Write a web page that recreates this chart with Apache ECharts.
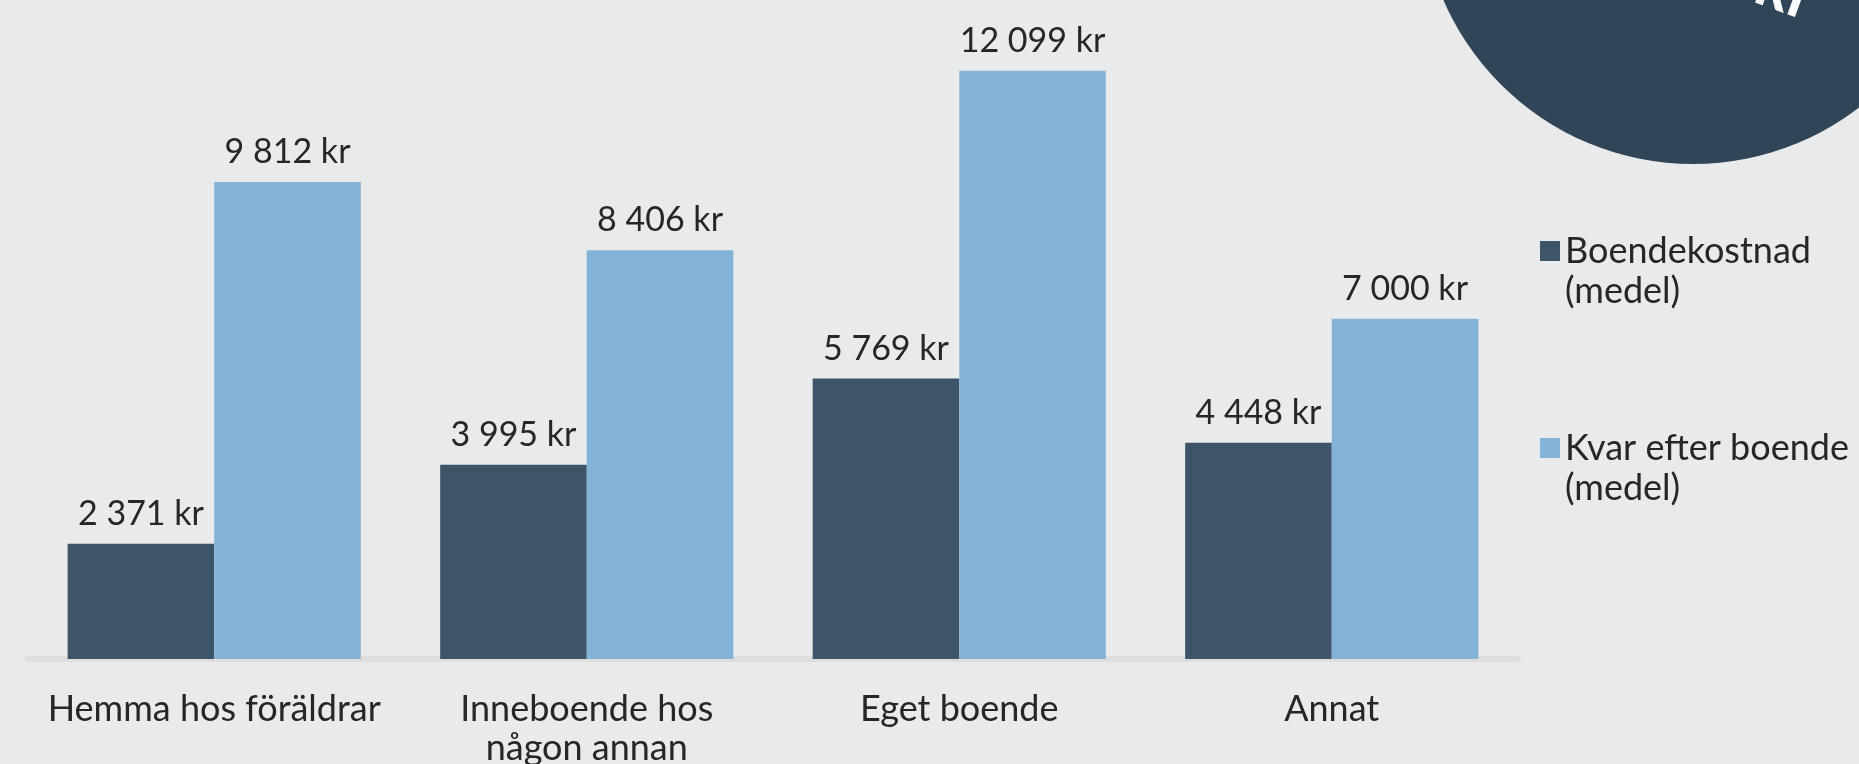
<!DOCTYPE html>
<html>
<head>
<meta charset="utf-8">
<script src="https://cdn.jsdelivr.net/npm/echarts@6/dist/echarts.min.js"></script>
<style>
  html, body { margin: 0; padding: 0; background: #e9eaec; }
  #chart { width: 1859px; height: 764px; }
</style>
</head>
<body>
<div id="chart"></div>
<script>
// Boendeform
const categories = ['Hemma hos föräldrar', 'Inneboende hos\nnågon annan', 'Eget boende', 'Annat'];
// Genomsnittlig boendekostnad per månad (kr)
const boendekostnad = [2371, 3995, 5769, 4448];
// Kvar att leva på efter boendekostnad (kr)
const kvarEfterBoende = [9812, 8406, 12099, 7000];
const seriesNames = ['Boendekostnad\n(medel)', 'Kvar efter boende\n(medel)'];

const FONT = 'Lato, "Open Sans", sans-serif';
const TEXT = '#262626';

const fmtKr = v => String(v).replace(/\B(?=(\d{3})+(?!\d))/g, ' ') + ' kr';

const chart = echarts.init(document.getElementById('chart'), null, { renderer: 'canvas' });

const barLabel = {
  show: true,
  position: 'top',
  distance: 13,
  color: TEXT,
  fontFamily: FONT,
  fontSize: 34,
  formatter: p => fmtKr(p.value)
};

chart.setOption({
  backgroundColor: '#e9eaec',
  animation: false,
  textStyle: { fontFamily: FONT },
  graphic: [
    {
      type: 'circle',
      shape: { cx: 1693, cy: -108, r: 272 },
      style: { fill: '#304557' },
      z: 0
    },
    {
      type: 'text',
      x: 1775,
      y: 22,
      rotation: -0.35,
      style: {
        text: 'kr',
        fill: '#ffffff',
        font: 'bold 64px ' + FONT,
        textAlign: 'center',
        textVerticalAlign: 'bottom'
      },
      z: 1
    }
  ],
  grid: {
    left: 28, right: 341, top: 27, bottom: 105,
    containLabel: false,
    outerBoundsMode: 'none'
  },
  legend: {
    orient: 'vertical',
    left: 1535,
    top: 186,
    icon: 'rect',
    itemWidth: 20,
    itemHeight: 20,
    itemGap: 77,
    // leading empty line keeps the square level with the first text line
    formatter: name => '\n' + name,
    textStyle: {
      color: TEXT,
      fontFamily: FONT,
      fontSize: 36,
      lineHeight: 40
    },
    data: seriesNames
  },
  xAxis: {
    type: 'category',
    data: categories,
    offset: 3,
    axisLine: { show: true, lineStyle: { color: '#dedede', width: 6 } },
    axisTick: { show: false },
    axisLabel: {
      color: TEXT,
      fontFamily: FONT,
      fontSize: 36,
      lineHeight: 39,
      margin: 28,
      interval: 0
    }
  },
  yAxis: {
    type: 'value',
    min: 0,
    max: 13000,
    show: false,
    splitLine: { show: false }
  },
  series: [
    {
      name: seriesNames[0],
      type: 'bar',
      data: boendekostnad,
      barGap: '0%',
      barCategoryGap: '21.3%',
      itemStyle: { color: '#3e5569' },
      label: barLabel
    },
    {
      name: seriesNames[1],
      type: 'bar',
      data: kvarEfterBoende,
      itemStyle: { color: '#83b3d6' },
      label: barLabel
    }
  ]
});
</script>
</body>
</html>
